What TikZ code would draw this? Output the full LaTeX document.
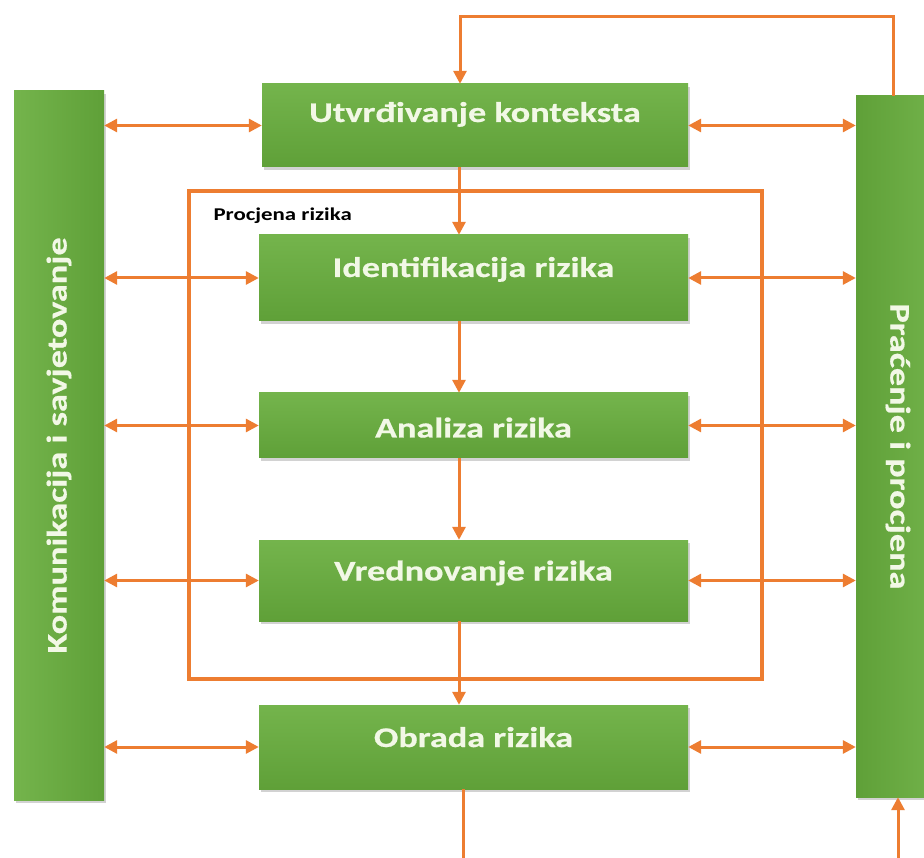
\documentclass[tikz,border=0pt]{standalone}
\usepackage{fontspec}
\setmainfont{Carlito}
\newfontfamily\wfont[FakeStretch=1.27,FakeBold=0.6]{Carlito}
\newfontfamily\lfont[FakeStretch=1.27]{Carlito}
\usetikzlibrary{arrows.meta,shadows}
\definecolor{orng}{HTML}{ED7D31}
\definecolor{gtop}{HTML}{74B44C}
\definecolor{gbot}{HTML}{5FA038}
\definecolor{txtc}{HTML}{F2F8E6}
\newcommand{\bl}[2]{\raisebox{#1}[0pt][0pt]{#2}}
\tikzset{
  bigtxt/.style={text=txtc, font=\wfont\fontsize{28.5}{32}\selectfont\bfseries},
  gbox/.style={rectangle, inner sep=0pt, top color=gtop, bottom color=gbot, bigtxt,
     drop shadow={opacity=0.35, shadow xshift=2pt, shadow yshift=-3pt}},
  sidebox/.style={rectangle, inner sep=0pt, left color=gtop, right color=gbot,
     drop shadow={opacity=0.35, shadow xshift=2pt, shadow yshift=-3pt}},
  sidebox2/.style={sidebox, left color=gbot, right color=gtop},
  arr/.style={draw=orng, line width=3pt, -{Triangle[length=13pt,width=13pt]}},
  darr/.style={draw=orng, line width=3pt, {Triangle[length=13pt,width=13pt]}-{Triangle[length=13pt,width=13pt]}},
  frm/.style={draw=orng, line width=4pt}
}
\begin{document}
\begin{tikzpicture}[x=1pt,y=-1pt]
\useasboundingbox (0,0) rectangle (924,858);
\clip (0,0) rectangle (924,858);
\fill[white] (0,0) rectangle (924,858);

\draw[frm] (189,191) rectangle (762,679);
\node[anchor=west, font=\lfont\fontsize{18}{20}\selectfont\bfseries, text=black] (plabel) at (210,216) {Procjena rizika};

\node[sidebox, minimum width=90pt, minimum height=709pt] (kom) at (59,445.5) {};
\node[rotate=90, bigtxt] (komt) at (kom.center) {Komunikacija i savjetovanje};
\node[sidebox2, minimum width=90pt, minimum height=701pt] (pra) at (901,446.5) {};
\node[rotate=-90, bigtxt] (prat) at (898,446.5) {Praćenje i procjena};

\node[gbox, minimum width=426pt, minimum height=83pt] (utv) at (475,125.5) {\bl{3.5pt}{Utvrđivanje konteksta}};
\node[gbox, minimum width=429pt, minimum height=86pt] (ide) at (473.5,278) {\bl{1pt}{Identifikacija rizika}};
\node[gbox, minimum width=429pt, minimum height=65pt] (ana) at (473.5,425.5) {\bl{-12pt}{Analiza rizika}};
\node[gbox, minimum width=429pt, minimum height=81pt] (vre) at (473.5,580.5) {\bl{0pt}{Vrednovanje rizika}};
\node[gbox, minimum width=429pt, minimum height=84pt] (obr) at (473.5,747) {\bl{0pt}{Obrada rizika}};

% left double arrows
\draw[darr] (kom.east |- utv.west) -- (utv.west);
\draw[darr] (kom.east |- ide.west) -- (ide.west);
\draw[darr] (kom.east |- ana.west) -- (ana.west);
\draw[darr] (kom.east |- vre.west) -- (vre.west);
\draw[darr] (kom.east |- obr.west) -- (obr.west);
% right double arrows
\draw[darr] (utv.east) -- (pra.west |- utv.east);
\draw[darr] (ide.east) -- (pra.west |- ide.east);
\draw[darr] (ana.east) -- (pra.west |- ana.east);
\draw[darr] (vre.east) -- (pra.west |- vre.east);
\draw[darr] (obr.east) -- (pra.west |- obr.east);

% vertical chain
\coordinate (spine) at (459,0);
\draw[arr] (utv.south -| spine) -- (ide.north -| spine);
\draw[arr] (ide.south -| spine) -- (ana.north -| spine);
\draw[arr] (ana.south -| spine) -- (vre.north -| spine);
\draw[arr] (vre.south -| spine) -- (obr.north -| spine);

% top loop
\coordinate (tr) at (893,17);
\coordinate (tl) at (460,17);
\draw[arr] (pra.north -| tr) -- (tr) -- (tl) -- (tl |- utv.north);

% bottom loop
\coordinate (bl) at (463,861);
\coordinate (br) at (898,861);
\draw[arr] (obr.south -| bl) -- (bl) -- (br) -- (br |- pra.south);
\end{tikzpicture}
\end{document}
